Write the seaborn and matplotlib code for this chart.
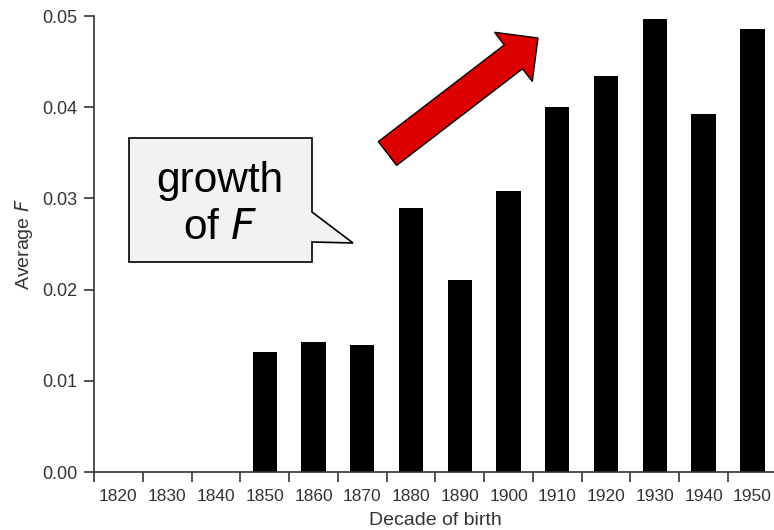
import matplotlib
matplotlib.use('Agg')
import matplotlib.pyplot as plt
import matplotlib.patches as mpatches
from matplotlib import font_manager
import numpy as np
import pandas as pd
import seaborn as sns

# decades and average inbreeding coefficient F
decades = ['1820', '1830', '1840', '1850', '1860', '1870', '1880',
           '1890', '1900', '1910', '1920', '1930', '1940', '1950']
avg_f = [0.0, 0.0, 0.0, 0.0132, 0.0143, 0.0139, 0.0289,
         0.0211, 0.0308, 0.0400, 0.0434, 0.0497, 0.0393, 0.0486]
y_ticks = [0.00, 0.01, 0.02, 0.03, 0.04, 0.05]

sns.set_style('ticks')
plt.rcParams['font.family'] = ['Liberation Sans', 'DejaVu Sans']

names = {f.name for f in font_manager.fontManager.ttflist}
narrow = 'Liberation Sans Narrow' in names
xt_font = 'Liberation Sans Narrow' if narrow else 'Liberation Sans'
xt_size = 15 if narrow else 12.5

df = pd.DataFrame({'decade': decades, 'F': avg_f})

fig = plt.figure(figsize=(7.74, 5.30), dpi=100)
ax = fig.add_axes([0.1215, 0.1094, 0.882, 0.8604])

sns.barplot(data=df, x='decade', y='F', order=decades, color='black',
            width=0.5, saturation=1, linewidth=0, ax=ax)

ax.set_xlim(-0.5, len(decades) - 0.5)
ax.set_ylim(0, 0.05)
ax.set_yticks(y_ticks)
ax.set_yticklabels([f'{v:.2f}' for v in y_ticks])

# ticks at the cell borders, labels at the centres
ax.set_xticks(np.arange(len(decades)))
ax.set_xticklabels(decades, fontfamily=xt_font)
ax.set_xticks(np.arange(len(decades) + 1) - 0.5, minor=True)
ax.tick_params(axis='x', which='major', length=0, pad=12, labelsize=xt_size, colors='#333333')
ax.tick_params(axis='x', which='minor', length=7.5, width=1.2, color='#333333')
ax.tick_params(axis='y', length=7, width=1.2, pad=5, labelsize=13, colors='#333333')

for s in ['top', 'right']:
    ax.spines[s].set_visible(False)
for s in ['left', 'bottom']:
    ax.spines[s].set_color('#333333')
    ax.spines[s].set_linewidth(1.2)

ax.set_xlabel('Decade of birth', fontsize=14, color='#333333', labelpad=6)
ax.set_ylabel('Average $\\it{F}$', fontsize=14, color='#333333', labelpad=5)

# red trend arrow (pixel layout -> inches from bottom-left)
H = 530
arrow = mpatches.FancyArrow(387.5 / 100, (H - 153.5) / 100, 1.505, 1.155,
                            width=0.30, head_width=0.62, head_length=0.31,
                            length_includes_head=True, facecolor='#dd0000',
                            edgecolor='black', linewidth=1,
                            transform=fig.dpi_scale_trans)
fig.patches.append(arrow)

# callout box
pts = [(129, 138), (312, 138), (312, 212), (353, 243), (312, 242),
       (312, 262), (129, 262)]
pts = [(x / 100, (H - y) / 100) for x, y in pts]
callout = mpatches.Polygon(pts, closed=True, facecolor='#f2f2f2',
                           edgecolor='black', linewidth=1.2,
                           transform=fig.dpi_scale_trans)
fig.patches.append(callout)
fig.text(220 / 774, 1 - 181 / H, 'growth', ha='center', va='center',
         fontsize=30.5, color='black')
fig.text(220 / 774, 1 - 228 / H, 'of $\\it{F}$', ha='center', va='center',
         fontsize=30.5, color='black')

fig.savefig('out.png', dpi=100)
